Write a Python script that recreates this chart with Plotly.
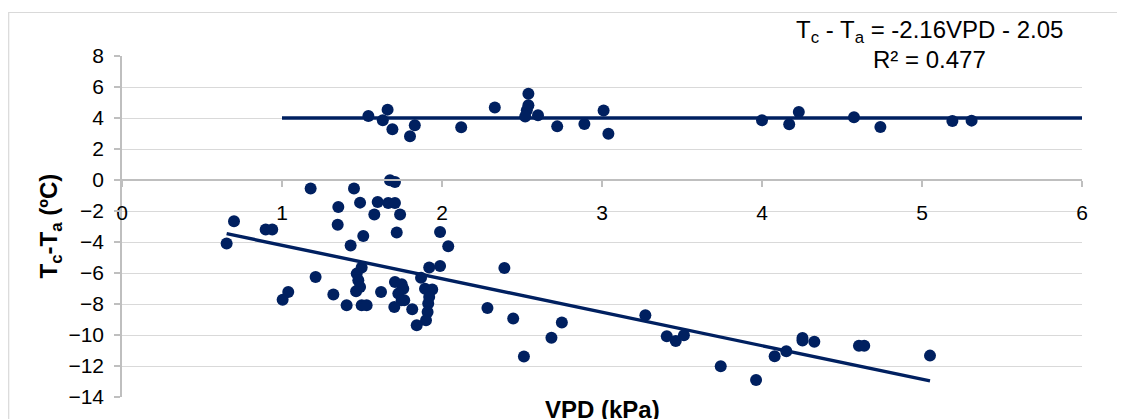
import plotly.graph_objects as go

# ---- data ----
upper_vpd = [1.54, 1.66, 1.63, 1.69, 1.83, 1.80, 2.12, 2.33, 2.54, 2.54, 2.53, 2.52, 2.60,
             2.72, 2.89, 3.01, 3.04, 4.00, 4.17, 4.23, 4.575, 4.74, 5.19, 5.31]
upper_dt = [4.13, 4.54, 3.85, 3.27, 3.53, 2.82, 3.41, 4.67, 5.57, 4.82, 4.50, 4.10, 4.17,
            3.46, 3.61, 4.48, 2.99, 3.85, 3.59, 4.39, 4.05, 3.42, 3.81, 3.83]

lower_vpd = [0.654, 0.70, 0.898, 0.939, 1.179, 1.352, 1.348, 1.429, 1.508, 1.45, 1.488, 1.577,
             1.598, 1.675, 1.706, 1.664, 1.706, 1.738, 1.717, 1.988, 2.039, 1.988, 1.92, 1.869,
             1.21, 1.498, 1.467, 1.477, 1.488, 1.463, 1.039, 1.004, 1.321, 1.404, 1.498, 1.529,
             1.619, 1.706, 1.748, 1.758, 1.727, 1.748, 1.702, 1.764, 1.814, 1.894, 1.939, 1.92,
             1.914, 1.91, 1.90, 1.842, 2.39, 2.284, 2.445, 2.512, 2.684, 2.749, 3.271, 3.405,
             3.461, 3.512, 3.742, 3.963, 4.079, 4.152, 4.253, 4.253, 4.327, 4.606, 4.639, 5.05]
lower_dt = [-4.10, -2.66, -3.20, -3.20, -0.55, -1.74, -2.88, -4.23, -3.61, -0.55, -1.46, -2.23,
            -1.42, -0.02, -0.13, -1.48, -1.48, -2.23, -3.39, -3.35, -4.28, -5.55, -5.65, -6.30,
            -6.26, -5.65, -6.04, -6.47, -6.90, -7.18, -7.23, -7.72, -7.39, -8.08, -8.08, -8.08,
            -7.23, -6.58, -6.73, -7.01, -7.33, -7.76, -8.19, -7.76, -8.34, -7.01, -7.07, -7.55,
            -7.97, -8.52, -9.05, -9.37, -5.68, -8.26, -8.94, -11.39, -10.17, -9.20, -8.73, -10.08,
            -10.39, -10.02, -12.02, -12.90, -11.37, -11.05, -10.19, -10.36, -10.43, -10.69, -10.69, -11.33]

slope = -2.16
intercept = -2.05
r2 = 0.477

upper_line_x = [1, 6]
upper_line_y = [4, 4]

x_ticks = [0, 1, 2, 3, 4, 5, 6]
y_ticks = [-14, -12, -10, -8, -6, -4, -2, 0, 2, 4, 6, 8]

NAVY = "#002060"
FONT = "Liberation Sans, Arial, sans-serif"

# page body has an 8px margin: plot area target is x 122..1082, y 56..397 in the window
OFF = 8
PL, PT, PW, PH = 122, 56, 960, 341


def px(xp):
    return (xp - PL) / PW


def py(yp):
    return (PT + PH - yp) / PH


trend_x = [min(lower_vpd), max(lower_vpd)]
trend_y = [slope * v + intercept for v in trend_x]

fig = go.Figure()
fig.add_trace(go.Scatter(x=upper_line_x, y=upper_line_y, mode="lines",
                         line=dict(color=NAVY, width=3.4), hoverinfo="skip"))
fig.add_trace(go.Scatter(x=trend_x, y=trend_y, mode="lines",
                         line=dict(color=NAVY, width=3.4), hoverinfo="skip"))
fig.add_trace(go.Scatter(x=upper_vpd + lower_vpd, y=upper_dt + lower_dt, mode="markers",
                         marker=dict(color=NAVY, size=12, line=dict(width=0))))

fig.update_layout(
    width=1125, height=419, autosize=False,
    margin=dict(l=PL - OFF, r=1125 + OFF - PL - PW, t=PT - OFF, b=419 + OFF - PT - PH, pad=0),
    paper_bgcolor="white", plot_bgcolor="white",
    showlegend=False,
    font=dict(family=FONT, color="black"),
    xaxis=dict(range=[0, 6], tickvals=x_ticks, showgrid=False, zeroline=False,
               showline=True, linecolor="#bfbfbf", linewidth=1.5,
               ticks="outside", ticklen=6, tickcolor="#bfbfbf", tickwidth=1.5,
               anchor="free", position=14 / 22, ticklabelstandoff=8,
               tickfont=dict(family=FONT, size=21, color="black")),
    yaxis=dict(range=[-14, 8], tickvals=y_ticks, showgrid=True, gridcolor="#d9d9d9",
               gridwidth=1.3, zeroline=False, showline=True, linecolor="#bfbfbf",
               linewidth=1.5, ticks="outside", ticklen=6, tickcolor="#bfbfbf", tickwidth=1.5,
               ticklabelstandoff=6,
               tickfont=dict(family=FONT, size=21, color="black")),
)

fig.add_annotation(xref="paper", yref="paper", x=px(50), y=0.5,
                   text="<b>T<sub>c</sub>-T<sub>a</sub> (ºC)</b>", textangle=-90,
                   showarrow=False, font=dict(family=FONT, size=24, color="black"),
                   xanchor="center", yanchor="middle")
fig.add_annotation(xref="paper", yref="paper", x=0.5, y=py(409),
                   text="<b>VPD (kPa)</b>", showarrow=False,
                   font=dict(family=FONT, size=24, color="black"),
                   xanchor="center", yanchor="middle")
fig.add_annotation(xref="paper", yref="paper", x=px(929), y=py(31),
                   text=f"T<sub>c</sub> - T<sub>a</sub> = {slope}VPD - {abs(intercept):.2f}",
                   showarrow=False, font=dict(family=FONT, size=24, color="black"),
                   xanchor="center", yanchor="middle")
fig.add_annotation(xref="paper", yref="paper", x=px(929), y=py(59.5),
                   text=f"R² = {r2}", showarrow=False,
                   font=dict(family=FONT, size=24, color="black"),
                   xanchor="center", yanchor="middle")

fig.add_shape(type="rect", xref="paper", yref="paper",
              x0=px(8.7), x1=px(1140),
              y0=py(440), y1=py(12.5),
              line=dict(color="#d9d9d9", width=1.2), fillcolor="rgba(0,0,0,0)", layer="below")

fig.write_html("out.html")
